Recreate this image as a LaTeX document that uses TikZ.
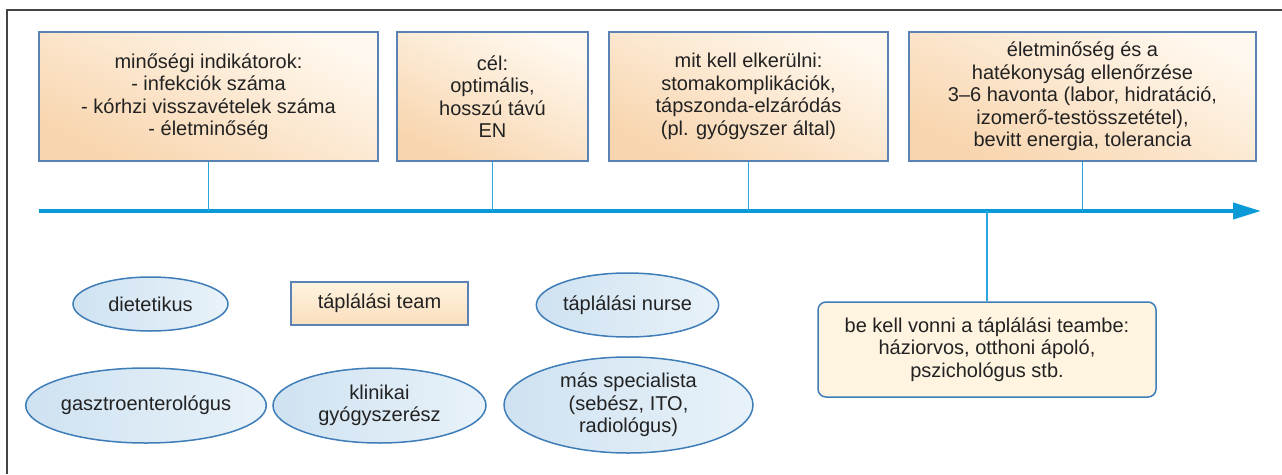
\documentclass[tikz,border=0pt]{standalone}
\usepackage{fontspec}
\setmainfont{Liberation Sans}
\usetikzlibrary{shapes.geometric,arrows.meta}
\definecolor{axisblue}{HTML}{0A9AD8}
\definecolor{linkblue}{HTML}{2AA5DD}
\definecolor{boxborder}{HTML}{5A82B4}
\definecolor{ellborder}{HTML}{3F7DB8}
\definecolor{txt}{HTML}{222222}
\definecolor{creamtop}{HTML}{FFF8EE}
\definecolor{peach}{HTML}{F8D5AE}
\definecolor{ellleft}{HTML}{CFE2F1}
\definecolor{ellright}{HTML}{E8F2F9}
\definecolor{framegray}{HTML}{444444}
\definecolor{cream}{HTML}{FFF4E0}
\begin{document}
\begin{tikzpicture}[x=1pt,y=-1pt,
  basefont/.style={text=txt, font=\fontsize{20}{22.5}\selectfont, align=center, inner sep=0pt},
  topbox/.style={basefont, rectangle, draw=boxborder, line width=1.5pt,
    top color=creamtop, bottom color=peach, shading angle=-25},
  ellnode/.style={basefont, ellipse, draw=ellborder, line width=1.5pt,
    left color=ellleft, right color=ellright},
  teambox/.style={basefont, rectangle, draw=boxborder, line width=1.5pt,
    top color=cream, bottom color=peach!70!cream},
  homebox/.style={basefont, rectangle, rounded corners=8pt, draw=ellborder, line width=1.5pt,
    fill=cream},
  link/.style={draw=linkblue, line width=1.4pt}
]
\useasboundingbox (0,0) rectangle (1282,474);
% frame
\draw[framegray, line width=1.5pt] (1282,10) -- (7,10) -- (7,474);

% top boxes
\node[topbox, minimum width=339pt, minimum height=129pt] (b1) at (208.5,96.5)
  {minőségi indikátorok:\\- infekciók száma\\- kórhzi visszavételek száma\\- életminőség};
\node[topbox, minimum width=191pt, minimum height=129pt] (b2) at (492.5,96.5)
  {cél:\\optimális,\\hosszú távú\\EN};
\node[topbox, minimum width=279pt, minimum height=129pt] (b3) at (748.5,96.5)
  {mit kell elkerülni:\\stomakomplikációk,\\tápszonda-elzáródás\\(pl. gyógyszer által)};
\node[topbox, minimum width=347pt, minimum height=129pt] (b4) at (1082.5,96.5)
  {életminőség és a\\hatékonyság ellenőrzése\\3–6 havonta (labor, hidratáció,\\izomerő-testösszetétel),\\bevitt energia, tolerancia};

% axis
\coordinate (axL) at (39,211);
\coordinate (axR) at (1261,211);
\draw[axisblue, line width=4pt, -{Triangle[length=28pt,width=16pt]}] (axL) -- (axR);

% bottom right box
\node[homebox, minimum width=338pt, minimum height=95pt] (home) at (987,349.5)
  {be kell vonni a táplálási teambe:\\háziorvos, otthoni ápoló,\\pszichológus stb.};

% connectors
\draw[link] (b1.south) -- (b1.south |- axL);
\draw[link] (b2.south) -- (b2.south |- axL);
\draw[link] (b3.south) -- (b3.south |- axL);
\draw[link] (b4.south) -- (b4.south |- axL);
\draw[link] (home.north |- axL) -- (home.north);

% team
\node[ellnode, minimum width=155pt, minimum height=54pt] (diet) at (150.5,304) {dietetikus};
\node[teambox, minimum width=177pt, minimum height=43pt] (team) at (379.5,303.5) {táplálási team};
\node[ellnode, minimum width=179pt, minimum height=64pt] (nurse) at (627.5,305) {táplálási nurse};
\node[ellnode, minimum width=214pt, minimum height=75pt] (gastro) at (146,405.5) {gasztroenterológus};
\node[ellnode, minimum width=213pt, minimum height=75pt] (pharm) at (379.5,405.5) {klinikai\\gyógyszerész};
\node[ellnode, minimum width=249pt, minimum height=96pt] (spec) at (628.5,405) {más specialista\\(sebész, ITO,\\radiológus)};
\end{tikzpicture}
\end{document}
